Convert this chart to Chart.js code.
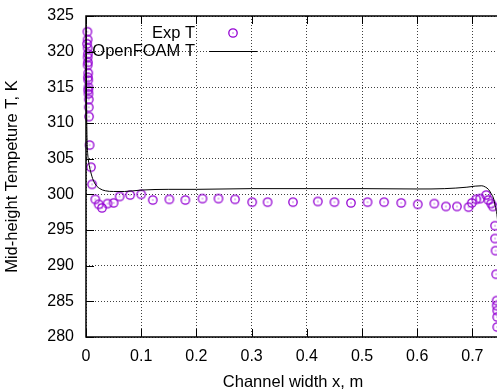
<!DOCTYPE html>
<html>
<head>
<meta charset="utf-8">
<script src="https://cdn.jsdelivr.net/npm/chart.js@4"></script>
<style>
  html, body { margin: 0; padding: 0; overflow: hidden; background: #fff; }
</style>
</head>
<body>
<canvas id="c" width="506" height="392" style="width:506px;height:392px"></canvas>
<script>
// Measured temperature (Exp T)
const expX = [0.0025, 0.003, 0.002, 0.003, 0.0035, 0.003, 0.0035, 0.003, 0.004, 0.0035, 0.004,
  0.0045, 0.004, 0.0045, 0.005, 0.005, 0.0055, 0.0065, 0.009, 0.011, 0.0168, 0.023, 0.029,
  0.039, 0.05, 0.061, 0.08, 0.1, 0.121, 0.151, 0.18, 0.211, 0.24, 0.27, 0.301, 0.329, 0.375,
  0.42, 0.45, 0.48, 0.51, 0.54, 0.571, 0.601, 0.631, 0.652, 0.672, 0.693, 0.699, 0.707, 0.714,
  0.725, 0.729, 0.734, 0.737, 0.741, 0.741, 0.742, 0.743, 0.744, 0.744, 0.745, 0.745, 0.745];
const expT = [322.8, 321.7, 321.1, 320.5, 319.7, 319.2, 318.5, 318.1, 317.0, 316.4, 316.0,
  315.0, 314.6, 314.1, 313.3, 312.2, 310.9, 306.9, 303.8, 301.4, 299.3, 298.6, 298.1,
  298.7, 298.8, 299.7, 299.9, 300.0, 299.2, 299.3, 299.2, 299.4, 299.4, 299.3, 298.9, 298.9, 298.9,
  299.0, 298.9, 298.8, 298.9, 298.9, 298.8, 298.6, 298.7, 298.3, 298.3, 298.2, 298.8, 299.3, 299.4,
  299.9, 299.2, 298.7, 298.3, 295.6, 293.8, 292.1, 288.8, 285.1, 284.4, 283.7, 282.8, 281.4];

// Simulation (OpenFOAM T)
const cfdX = [0, 0.0008, 0.0015, 0.0025, 0.004, 0.006, 0.009, 0.013, 0.018, 0.025, 0.035, 0.05,
  0.07, 0.1, 0.15, 0.2, 0.3, 0.4, 0.5, 0.6, 0.65, 0.69, 0.705, 0.717, 0.724, 0.729, 0.734,
  0.738, 0.741, 0.743, 0.745, 0.747, 0.749, 0.75];
const cfdT = [325, 315, 309.5, 306.5, 305, 304, 303, 302, 301.3, 300.8, 300.5, 300.4,
  300.4, 300.6, 300.7, 300.7, 300.8, 300.8, 300.8, 300.75, 300.8, 301.0, 301.15, 301.2, 301.0, 300.7, 300.1,
  299.5, 298.5, 297.8, 296.8, 294.5, 290, 285];

const X_MIN = 0, X_MAX = 0.75, X_STEP = 0.1;
const Y_MIN = 280, Y_MAX = 325, Y_STEP = 5;

const PURPLE = '#9400d3';
const FONT = '"Liberation Sans", Arial, Helvetica, sans-serif';

function ringDot(color) {
  const c = document.createElement('canvas');
  c.width = 12; c.height = 12;
  const g = c.getContext('2d');
  g.strokeStyle = color;
  g.lineWidth = 1.3;
  g.beginPath();
  g.arc(6, 6, 4.2, 0, Math.PI * 2);
  g.stroke();
  g.fillStyle = color;
  g.fillRect(5.5, 5.5, 1, 1);
  return c;
}
const marker = ringDot(PURPLE);

// border, inward ticks and the gnuplot style key
const framePlugin = {
  id: 'frame',
  afterDraw(chart) {
    const { ctx, chartArea: a, scales: { x, y } } = chart;
    ctx.save();
    ctx.strokeStyle = '#000';
    ctx.lineWidth = 1.5;
    ctx.beginPath();
    ctx.moveTo(a.right, a.top);
    ctx.lineTo(a.left, a.top);
    ctx.lineTo(a.left, a.bottom);
    ctx.lineTo(a.right, a.bottom);
    ctx.stroke();
    ctx.lineWidth = 1;
    ctx.beginPath();
    x.ticks.forEach(t => {
      const px = Math.round(x.getPixelForValue(t.value)) + 0.5;
      ctx.moveTo(px, a.bottom); ctx.lineTo(px, a.bottom - 8);
      ctx.moveTo(px, a.top); ctx.lineTo(px, a.top + 8);
    });
    y.ticks.forEach(t => {
      const py = Math.round(y.getPixelForValue(t.value)) + 0.5;
      ctx.moveTo(a.left, py); ctx.lineTo(a.left + 8, py);
    });
    ctx.stroke();

    // key
    ctx.font = '16.5px ' + FONT;
    ctx.fillStyle = '#000';
    ctx.textAlign = 'right';
    ctx.textBaseline = 'middle';
    ctx.fillText('Exp T', 195, 33);
    ctx.fillText('OpenFOAM T', 195, 51);
    ctx.drawImage(marker, 233 - 6, 33 - 6);
    ctx.beginPath();
    ctx.moveTo(209, 51.5); ctx.lineTo(257, 51.5);
    ctx.stroke();
    ctx.restore();
  }
};

new Chart(document.getElementById('c'), {
  type: 'scatter',
  data: {
    datasets: [
      {
        label: 'OpenFOAM T',
        data: cfdX.map((v, i) => ({ x: v, y: cfdT[i] })),
        showLine: true,
        borderColor: '#000',
        borderWidth: 1,
        pointRadius: 0,
        cubicInterpolationMode: 'monotone',
        fill: false
      },
      {
        label: 'Exp T',
        data: expX.map((v, i) => ({ x: v, y: expT[i] })),
        pointStyle: marker,
        pointRadius: 5,
        clip: false
      }
    ]
  },
  options: {
    responsive: false,
    animation: false,
    layout: { padding: { top: 16, right: 0, left: 0, bottom: 0 } },
    plugins: { legend: { display: false }, tooltip: { enabled: false } },
    scales: {
      x: {
        type: 'linear',
        min: X_MIN, max: X_MAX,
        afterFit: s => { s.height = 55; s.paddingLeft = 0; s.paddingRight = 0; },
        grid: { color: 'rgba(0,0,0,0.75)', lineWidth: 1, drawTicks: false },
        border: { display: false, dash: [1, 2] },
        ticks: {
          stepSize: X_STEP,
          includeBounds: false,
          padding: 10,
          color: '#000',
          font: { family: FONT, size: 16 },
          callback: v => String(Math.round(v * 10) / 10)
        },
        title: {
          display: true,
          text: 'Channel width x, m',
          color: '#000',
          font: { family: FONT, size: 16.5 },
          padding: { top: 0, bottom: 0 }
        }
      },
      y: {
        type: 'linear',
        min: Y_MIN, max: Y_MAX,
        afterFit: s => { s.width = 86; s.paddingTop = 0; s.paddingBottom = 0; },
        grid: { color: 'rgba(0,0,0,0.75)', lineWidth: 1, drawTicks: false },
        border: { display: false, dash: [1, 2] },
        ticks: {
          stepSize: Y_STEP,
          padding: 12,
          color: '#000',
          font: { family: FONT, size: 16 }
        },
        title: {
          display: true,
          text: 'Mid-height Tempeture T, K',
          color: '#000',
          font: { family: FONT, size: 16.5 },
          padding: { top: 3, bottom: 0 }
        }
      }
    }
  },
  plugins: [framePlugin]
});
</script>
</body>
</html>
